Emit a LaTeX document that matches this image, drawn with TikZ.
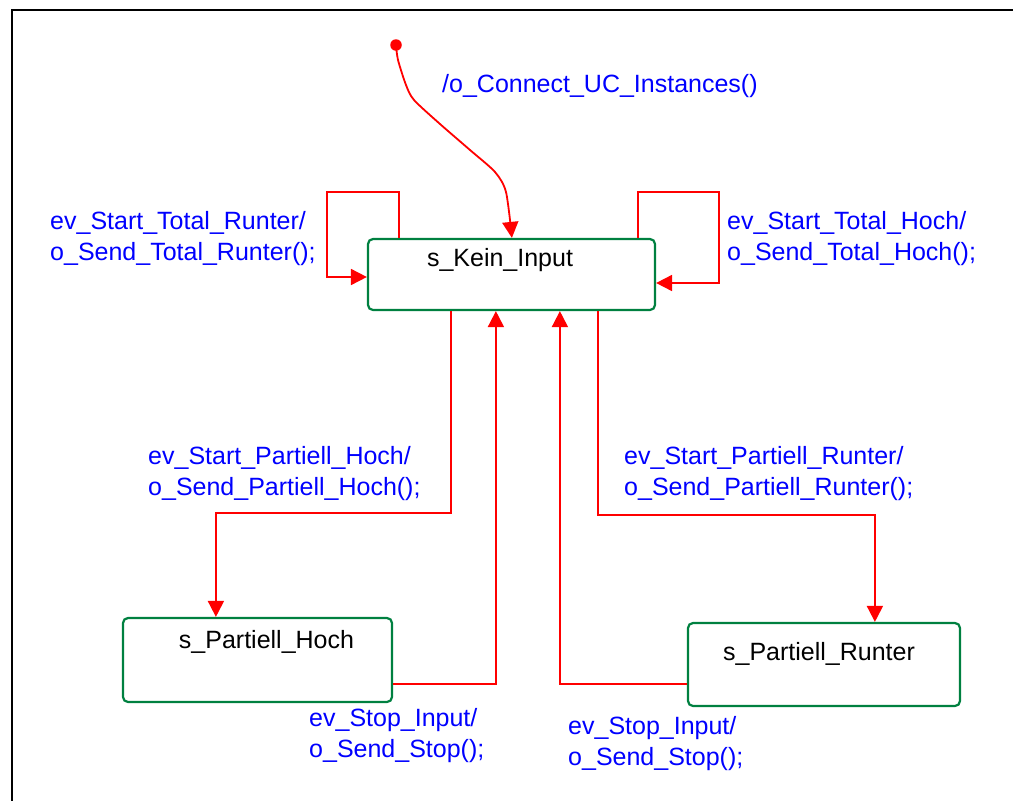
\documentclass[tikz,border=0pt]{standalone}
\usepackage{fontspec}
\setmainfont{Liberation Sans}
\usetikzlibrary{arrows.meta,calc}
\definecolor{tred}{RGB}{255,0,0}
\definecolor{tblue}{RGB}{0,0,255}
\definecolor{sgreen}{RGB}{0,128,64}
\begin{document}
\begin{tikzpicture}[x=1pt,y=-1pt,
  state/.style={draw=sgreen, line width=2.2pt, rounded corners=5pt, inner sep=0pt, fill=white},
  statename/.style={font=\fontsize{25}{31}\selectfont, text=black, inner sep=0pt, anchor=base},
  tr/.style={draw=tred, line width=1.8pt, -{Triangle[length=16pt,width=16pt]}},
  lab/.style={font=\fontsize{25}{31.5}\selectfont, text=tblue, inner sep=0pt, align=left, anchor=north west},
  lab1/.style={font=\fontsize{25}{31.5}\selectfont, text=tblue, inner sep=0pt, anchor=base west},
  initdot/.style={circle, fill=tred, inner sep=0pt, minimum size=11.5pt},
  frame/.style={draw=black, line width=2.4pt}
]
\useasboundingbox (0,0) rectangle (1013,801);
\clip (0,0) rectangle (1013,801);
\draw[frame] (12,830) -- (12,10) -- (1040,10);

% states
\node[state, minimum width=287pt, minimum height=71pt] (kein) at (511.5,274.5) {};
\node[state, minimum width=269pt, minimum height=84pt] (ph) at (257.5,660) {};
\node[state, minimum width=272pt, minimum height=83pt] (pr) at (824,664.5) {};
\node[statename] (keinname) at (500,266) {s\_Kein\_Input};
\node[statename] (phname) at (266.5,648) {s\_Partiell\_Hoch};
\node[statename] (prname) at (819,660) {s\_Partiell\_Runter};

% initial
\node[initdot] (init) at (396,45) {};
\draw[tr] plot[smooth, tension=0.45] coordinates {(init.center) (398,60) (406,85) (414,100) (440,124) (470,150) (495,172) (506,192) ([xshift=145pt]kein.north west)};

% self loops
\draw[tr] ([xshift=32pt]kein.north west) -- ++(0,-46) -- ++(-72,0) |- ([yshift=-2.5pt]kein.west);
\draw[tr] ([xshift=-18pt]kein.north east) -- ++(0,-46) -- ++(81,0) |- ([yshift=-8.5pt]kein.east);

% transitions down
\draw[tr] ([xshift=84pt]kein.south west) -- ++(0,202) -| ([xshift=94pt]ph.north west);
\draw[tr] ([xshift=231pt]kein.south west) -- ++(0,204) -| ([xshift=188pt]pr.north west);

% transitions up
\draw[tr] ([yshift=-24pt]ph.east) -| ([xshift=129pt]kein.south west);
\draw[tr] ([yshift=-19.5pt]pr.west) -| ([xshift=193pt]kein.south west);

% labels
\node[lab1] (lconn) at (442,92) {/o\_Connect\_UC\_Instances()};
\node[lab] (ltr) at (50,210) {\rule{0pt}{19pt}ev\_Start\_Total\_Runter/\\o\_Send\_Total\_Runter();};
\node[lab] (lth) at (727,210) {\rule{0pt}{19pt}ev\_Start\_Total\_Hoch/\\o\_Send\_Total\_Hoch();};
\node[lab] (lph) at (148,445) {\rule{0pt}{19pt}ev\_Start\_Partiell\_Hoch/\\o\_Send\_Partiell\_Hoch();};
\node[lab] (lpr) at (624,445) {\rule{0pt}{19pt}ev\_Start\_Partiell\_Runter/\\o\_Send\_Partiell\_Runter();};
\node[lab] (ls1) at (309,707) {\rule{0pt}{19pt}ev\_Stop\_Input/\\o\_Send\_Stop();};
\node[lab] (ls2) at (568,715) {\rule{0pt}{19pt}ev\_Stop\_Input/\\o\_Send\_Stop();};
\end{tikzpicture}
\end{document}
